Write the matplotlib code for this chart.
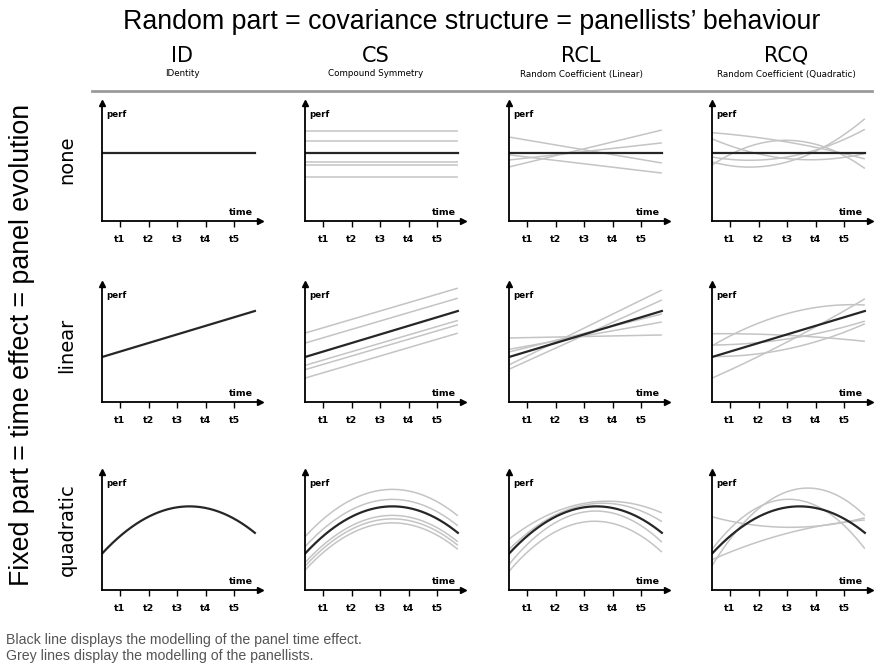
import numpy as np
import matplotlib.pyplot as plt

W, H = 881, 667

# ---- labels ----
title = "Random part = covariance structure = panellists\u2019 behaviour"
side_title = "Fixed part = time effect = panel evolution"
col_names = ["ID", "CS", "RCL", "RCQ"]
col_subtitles = ["IDentity", "Compound Symmetry",
                 "Random Coefficient (Linear)", "Random Coefficient (Quadratic)"]
row_names = ["none", "linear", "quadratic"]
times = [1, 2, 3, 4, 5]
time_labels = ["t1", "t2", "t3", "t4", "t5"]
notes = ["Black line displays the modelling of the panel time effect.",
         "Grey lines display the modelling of the panellists."]

# ---- curves: [level at t3, slope, curvature] ----
# black line = fixed effect, one per row
fixed_none = [6.85, 0.0, 0.0]
fixed_linear = [6.76, 0.86, 0.0]
fixed_quadratic = [8.27, 0.435, -0.505]

# grey lines = panellists
cs_none = [[9.0, 0, 0], [8.0, 0, 0], [5.9, 0, 0], [5.6, 0, 0], [4.4, 0, 0]]
rcl_none = [[7.12, -0.486, 0], [7.22, 0.69, 0], [6.94, 0.32, 0], [5.72, -0.34, 0]]
rcq_none = [[7.9, -0.486, -0.05], [6.24, -0.29, 0.176], [8.07, -0.03, -0.37],
            [5.9, 0.78, 0.298], [6.4, 0.5, 0.19]]

cs_linear = [[9.1, 0.84, 0], [8.1, 0.84, 0], [5.87, 0.84, 0],
             [5.44, 0.84, 0], [4.6, 0.84, 0]]
rcl_linear = [[6.55, 0.056, 0], [6.61, 0.51, 0], [7.39, 1.40, 0],
              [6.68, 1.295, 0], [6.87, 0.71, 0]]
rcq_linear = [[6.67, -0.14, -0.03], [8.84, 0.78, -0.17], [6.0, 1.48, 0.04],
              [6.3, 0.44, 0.08], [5.3, 0.6, 0.12]]

cs_quadratic = [[9.97, 0.435, -0.505], [8.97, 0.435, -0.505], [7.37, 0.435, -0.505],
                [7.02, 0.435, -0.505], [6.62, 0.435, -0.505]]
rcl_quadratic = [[8.67, 0.52, -0.32], [8.5, 0.56, -0.43], [7.8, 0.47, -0.58],
                 [6.8, 0.41, -0.557]]
rcq_quadratic = [[6.27, -0.03, 0.14], [9.83, 1.0, -0.69], [9.07, 0.075, -0.696],
                 [5.67, 0.75, -0.096]]

fixed_rows = [fixed_none, fixed_linear, fixed_quadratic]
grey_rows = [
    [[], cs_none, rcl_none, rcq_none],
    [[], cs_linear, rcl_linear, rcq_linear],
    [[], cs_quadratic, rcl_quadratic, rcq_quadratic],
]

# ---- layout (pixels) ----
col_x = [102, 305, 509, 712]   # y-axis position of each column
row_y = [221, 402, 590]        # x-axis position of each row
pw, ph = 158, 118
x0, x1, xmax, ymax = 0.37, 5.72, 5.9, 11.8
xs = np.linspace(x0, x1, 200)


def curve(c):
    d = xs - 3
    return c[0] + c[1] * d + c[2] * d ** 2


def px(x, y):
    return x / W, 1 - y / H


plt.rcParams["font.family"] = ["DejaVu Sans"]
fig = plt.figure(figsize=(W / 100, H / 100), dpi=100)

for r in range(3):
    for c in range(4):
        left, bottom = px(col_x[c], row_y[r])
        ax = fig.add_axes([left, bottom, pw / W, ph / H])
        for g in grey_rows[r][c]:
            ax.plot(xs, curve(g), color="#c4c4c4", lw=1.1, solid_capstyle="butt")
        ax.plot(xs, curve(fixed_rows[r]), color="#262626", lw=1.6)
        ax.set_xlim(x0, xmax)
        ax.set_ylim(0, ymax)
        for s in ["top", "right"]:
            ax.spines[s].set_visible(False)
        for s in ["left", "bottom"]:
            ax.spines[s].set_linewidth(1.3)
        ax.plot(1, 0, ">k", transform=ax.transAxes, clip_on=False, ms=4.5)
        ax.plot(0, 1, "^k", transform=ax.transAxes, clip_on=False, ms=4.5)
        ax.set_xticks(times)
        ax.set_xticklabels(time_labels, fontsize=6.8, fontweight="bold")
        ax.tick_params(axis="x", length=4, width=1, pad=6)
        ax.set_yticks([])
        ax.text(0.03, 0.94, "perf", transform=ax.transAxes, fontsize=6.3,
                fontweight="bold", va="top", ha="left")
        ax.text(0.955, 0.03, "time", transform=ax.transAxes, fontsize=6.8,
                fontweight="bold", va="bottom", ha="right")

# ---- texts ----
fig.text(*px(472, 22), title, fontsize=19.3, family="Liberation Sans",
         ha="center", va="center")
header_x = [182, 376, 581, 786]
for hx, name, sub in zip(header_x, col_names, col_subtitles):
    fig.text(*px(hx, 56), name, fontsize=15, ha="center", va="center")
    fig.text(*px(hx, 74), sub, fontsize=6.3, ha="center", va="center")
fig.add_artist(plt.Line2D([92 / W, 872 / W], [1 - 91 / H, 1 - 91 / H],
                          color="#9a9a9a", lw=2))

row_label_y = [160, 345, 530]
for ry, name in zip(row_label_y, row_names):
    fig.text(*px(67, ry), name, fontsize=14, rotation=90, ha="center", va="center")
fig.text(*px(22, 345), side_title, fontsize=19.3, family="Liberation Sans",
         rotation=90, ha="center", va="center")

for i, line in enumerate(notes):
    fig.text(*px(6, 640 + 16 * i), line, fontsize=10.2, family="Liberation Sans",
             color="#555555", ha="left", va="center")

fig.savefig("out.png", dpi=100)
